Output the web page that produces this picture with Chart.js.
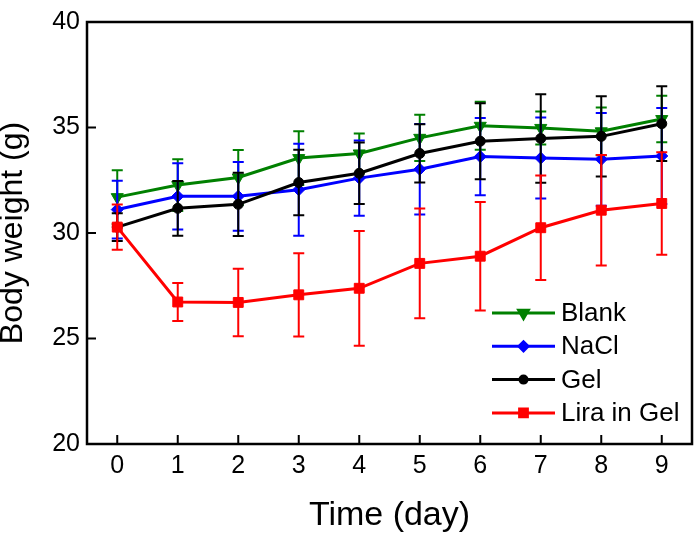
<!DOCTYPE html>
<html>
<head>
<meta charset="utf-8">
<script src="https://cdn.jsdelivr.net/npm/chart.js@4/dist/chart.umd.min.js"></script>
<style>
  html, body { margin: 0; padding: 0; background: #fff; }
</style>
</head>
<body>
<canvas id="chart" width="700" height="540"></canvas>
<script>
// days on the x axis
const days = [0, 1, 2, 3, 4, 5, 6, 7, 8, 9];
const yTicks = [20, 25, 30, 35, 40];

// mean body weight (g) and error (SD) per group
const blankMean = [31.70, 32.27, 32.63, 33.55, 33.77, 34.51, 35.08, 34.98, 34.82, 35.40];
const blankErr  = [1.27, 1.23, 1.30, 1.27, 0.94, 1.10, 1.14, 0.78, 1.13, 1.10];
const naclMean  = [31.11, 31.74, 31.74, 32.05, 32.60, 33.02, 33.62, 33.55, 33.49, 33.65];
const naclErr   = [1.37, 1.57, 1.63, 2.18, 1.78, 2.14, 1.83, 1.92, 2.20, 2.27];
const gelMean   = [30.28, 31.17, 31.36, 32.39, 32.83, 33.77, 34.35, 34.48, 34.58, 35.18];
const gelErr    = [0.66, 1.30, 1.50, 1.55, 1.46, 1.38, 1.80, 2.10, 1.90, 1.77];
const liraMean  = [30.28, 26.73, 26.71, 27.07, 27.38, 28.56, 28.90, 30.25, 31.08, 31.40];
const liraErr   = [1.07, 0.90, 1.60, 1.97, 2.72, 2.60, 2.57, 2.48, 2.62, 2.43];

const FONT = "'Liberation Sans', Arial, sans-serif";

function series(label, color, style, radius, rotation, mean, err, order) {
  return {
    label,
    data: days.map((d, i) => ({ x: d, y: mean[i] })),
    errors: err,
    borderColor: color,
    backgroundColor: color,
    pointBackgroundColor: color,
    pointBorderColor: color,
    pointStyle: style,
    pointRadius: radius,
    pointRotation: rotation,
    pointBorderWidth: 1,
    borderWidth: 3,
    tension: 0,
    order,
  };
}

const datasets = [
  series('Blank', '#008000', 'triangle', 7, 180, blankMean, blankErr, 3),
  series('NaCl', '#0000ff', 'rectRot', 6, 0, naclMean, naclErr, 2),
  series('Gel', '#000000', 'circle', 5, 0, gelMean, gelErr, 1),
  series('Lira in Gel', '#ff0000', 'rect', 7, 0, liraMean, liraErr, 0),
];

// error bars, drawn just before each dataset's line and markers
const errorBars = {
  id: 'errorBars',
  beforeDatasetDraw(chart, args) {
    const ds = chart.data.datasets[args.index];
    const xs = chart.scales.x, ys = chart.scales.y;
    const ctx = chart.ctx;
    ctx.save();
    ctx.strokeStyle = ds.borderColor;
    ctx.lineWidth = 2;
    ds.data.forEach((p, i) => {
      const x = xs.getPixelForValue(p.x);
      const top = ys.getPixelForValue(p.y + ds.errors[i]);
      const bot = ys.getPixelForValue(p.y - ds.errors[i]);
      ctx.beginPath();
      ctx.moveTo(x, top); ctx.lineTo(x, bot);
      ctx.moveTo(x - 5.5, top); ctx.lineTo(x + 5.5, top);
      ctx.moveTo(x - 5.5, bot); ctx.lineTo(x + 5.5, bot);
      ctx.stroke();
    });
    ctx.restore();
  }
};

// box frame with inward ticks on the bottom and left axes
const frame = {
  id: 'frame',
  afterDatasetsDraw(chart) {
    const { ctx, chartArea: a, scales } = chart;
    ctx.save();
    ctx.strokeStyle = '#000';
    ctx.lineWidth = 2.5;
    ctx.strokeRect(a.left, a.top, a.right - a.left, a.bottom - a.top);
    ctx.lineWidth = 2;
    ctx.beginPath();
    scales.x.ticks.forEach(t => {
      const x = scales.x.getPixelForValue(t.value);
      ctx.moveTo(x, a.bottom); ctx.lineTo(x, a.bottom - 9);
    });
    scales.y.ticks.forEach(t => {
      const y = scales.y.getPixelForValue(t.value);
      ctx.moveTo(a.left, y); ctx.lineTo(a.left + 9, y);
    });
    ctx.stroke();
    ctx.restore();
  }
};

// legend inside the plot, bottom right: line + marker + label
const lineLegend = {
  id: 'lineLegend',
  afterDraw(chart) {
    const { ctx, chartArea: a } = chart;
    const x0 = a.right - 200, x1 = a.right - 137, tx = a.right - 131;
    let y = a.bottom - 131;
    ctx.save();
    ctx.font = '26px ' + FONT;
    ctx.textBaseline = 'middle';
    ctx.textAlign = 'left';
    chart.data.datasets.forEach(ds => {
      ctx.strokeStyle = ds.borderColor;
      ctx.lineWidth = 3;
      ctx.beginPath();
      ctx.moveTo(x0, y); ctx.lineTo(x1, y);
      ctx.stroke();
      Chart.helpers.drawPoint(ctx, {
        pointStyle: ds.pointStyle,
        radius: ds.pointRadius - 1.5,
        rotation: ds.pointRotation,
        borderWidth: 1
      }, (x0 + x1) / 2, y);
      ctx.fillStyle = ds.borderColor;
      ctx.strokeStyle = ds.borderColor;
      ctx.fill();
      ctx.fillStyle = '#000';
      ctx.fillText(ds.label, tx, y + 1);
      y += 33.3;
    });
    ctx.restore();
  }
};

new Chart(document.getElementById('chart'), {
  type: 'line',
  data: { datasets },
  plugins: [errorBars, frame, lineLegend],
  options: {
    responsive: false,
    animation: false,
    layout: { padding: { left: 0, right: 4, top: 18, bottom: 0 } },
    plugins: { legend: { display: false }, tooltip: { enabled: false } },
    scales: {
      x: {
        type: 'linear',
        min: -0.5,
        max: 9.5,
        afterBuildTicks: s => { s.ticks = days.map(v => ({ value: v })); },
        afterFit: s => { s.height = 96; },
        grid: { display: false, drawTicks: false },
        border: { display: false },
        ticks: { color: '#000', padding: 7, font: { family: FONT, size: 25 } },
        title: {
          display: true,
          text: 'Time (day)',
          color: '#000',
          font: { family: FONT, size: 34 },
          padding: { top: 0, bottom: 4 }
        }
      },
      y: {
        min: 20,
        max: 40,
        afterBuildTicks: s => { s.ticks = yTicks.map(v => ({ value: v })); },
        afterFit: s => { s.width = 87; },
        grid: { display: false, drawTicks: false },
        border: { display: false },
        ticks: { color: '#000', padding: 7, font: { family: FONT, size: 25 } },
        title: {
          display: true,
          text: 'Body weight (g)',
          color: '#000',
          font: { family: FONT, size: 32, lineHeight: 0.8 },
          padding: { top: 0, bottom: 0 }
        }
      }
    }
  }
});
</script>
</body>
</html>
